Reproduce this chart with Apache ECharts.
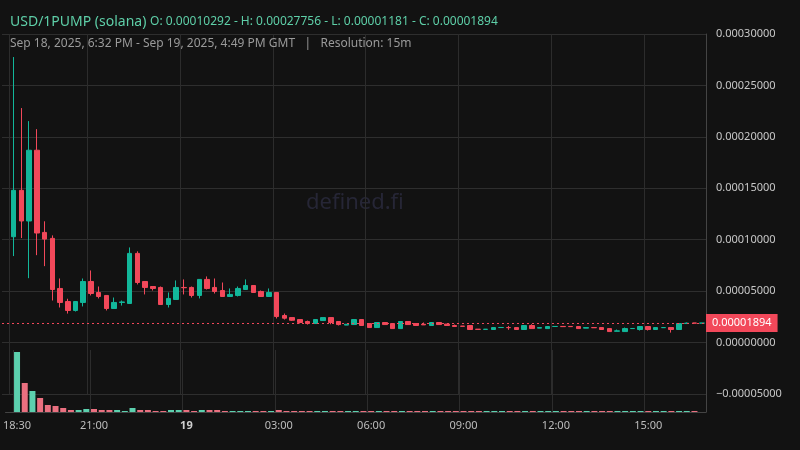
<!DOCTYPE html>
<html><head><meta charset="utf-8">
<script src="https://cdn.jsdelivr.net/npm/echarts@6/dist/echarts.min.js"></script>
<style>html,body{margin:0;padding:0;background:#121212;}#c{width:800px;height:450px;}</style>
</head><body><div id="c"></div>
<script>
// categories: 15-minute slots from 18:15 (Sep 18) to 16:45 (Sep 19)
const categories = [];
for (let i = 0; i <= 90; i++) {
  const m = (18 * 60 + 15 + i * 15) % 1440;
  categories.push(String(Math.floor(m / 60)).padStart(2, '0') + ':' + String(m % 60).padStart(2, '0'));
}
// OHLC in units of 1e-7: [open, close, low, high]
const ohlc = [
  null,
  [1029,1480,841,2776],[1480,1182,1016,2280],[1182,1870,626,2153],[1870,1065,850,2075],
  [1071,1006,743,1179],[1013,516,409,1042],[526,390,341,623],[399,312,282,426],
  [312,399,302,400],[390,594,351,623],[594,477,458,701],[487,448,429,545],
  [458,331,312,458],[331,390,331,438],[390,395,360,409],[380,867,380,925],
  [867,584,565,887],[594,536,468,594],[545,526,506,545],[536,370,370,545],
  [370,429,341,487],[419,536,419,604],[536,533,468,614],[536,458,438,545],
  [458,614,429,614],[614,526,516,643],[536,497,477,623],[506,448,448,584],
  [448,468,448,526],[458,526,448,545],[516,555,516,614],[555,487,487,555],
  [497,448,448,506],[448,487,448,526],[487,253,234,487],
  [263,237,224,282],[243,217,211,243],[224,195,185,224],[205,185,175,214],
  [185,224,185,224],[214,243,214,243],[243,195,178,243],[205,175,166,205],
  [170,178,170,178],[175,224,175,224],[224,166,166,224],[185,146,146,185],
  [146,195,146,195],[195,175,175,195],[185,136,136,185],[136,205,136,205],
  [205,175,175,205],[185,166,166,185],[178,172,172,195],[166,195,166,195],
  [195,175,175,195],[180,166,166,180],[166,156,156,175],[160,158,158,160],
  [166,127,127,166],[130,128,128,130],[128,130,128,130],[127,146,127,146],
  [146,147,146,147],[146,145,124,162],[146,127,127,146],[127,166,127,166],
  [166,136,136,178],[140,146,140,146],[136,156,136,156],[156,157,156,157],
  [157,155,155,157],[157,155,155,157],[156,136,136,156],[140,146,140,146],
  [146,144,144,146],[146,127,127,146],[136,107,107,136],[110,114,110,127],
  [107,136,107,146],[136,137,136,137],[127,156,117,156],[156,127,117,156],
  [127,146,127,146],[145,146,145,146],[146,127,97,146],[127,185,127,185],
  [185,189,185,195],[190,189,189,190],[189,189.4,189,189.4]
];
// volume (relative units)
const volumes = [
  null,60,29,21,14,7,6,4,2,2,3,3,2,2,2,1,4,2,2,1,1,2,2,2,1,2,2,2,1,1,1,1,1,1,1,2,
  1,1,1,1,1,1,1,1,1,1,1,1,1,1,1,1,1,1,1,1,1,1,1,1,1,1,1,1,1,1,1,1,1,1,1,1,1,1,1,
  1,1,1,1,1,1,1,1,1,1,1,1,1,1,1
];
const yTicks = [-0.00005, 0, 0.00005, 0.0001, 0.00015, 0.0002, 0.00025, 0.0003];
const lastPrice = 0.00001894;

const UP = '#12b79a', DOWN = '#f2485a', VUP = '#5cd0ae', VDOWN = '#ea7080';
const candleData = ohlc.map(d => d ? d.map(v => v * 1e-7) : '-');
const volData = volumes.map((v, i) => {
  if (v == null) return '-';
  const d = ohlc[i];
  return { value: v, itemStyle: { color: d[1] >= d[0] ? VUP : VDOWN } };
});
function showTick(i) {
  const c = categories[i];
  return c === '18:30' || (c.endsWith(':00') && parseInt(c) % 3 === 0);
}
const chart = echarts.init(document.getElementById('c'));
chart.setOption({
  backgroundColor: '#121212',
  animation: false,
  title: [{
    text: 'USD/1PUMP (solana) {s|O: 0.00010292 - H: 0.00027756 - L: 0.00001181 - C: 0.00001894}',
    left: 5, top: 10,
    textStyle: { color: '#5ecfa8', fontSize: 14, fontWeight: 'normal', fontFamily: 'Noto Sans',
      rich: { s: { color: '#5ecfa8', fontSize: 12, fontFamily: 'Noto Sans' } } }
  }, {
    text: 'Sep 18, 2025, 6:32 PM - Sep 19, 2025, 4:49 PM GMT   |   Resolution: 15m',
    left: 5, top: 33,
    textStyle: { color: '#9a9a9a', fontSize: 12, fontWeight: 'normal', fontFamily: 'Noto Sans' }
  }],
  graphic: [{ type: 'text', left: 306, top: 192,
    style: { text: 'defined.fi', fill: '#262636', fontSize: 22, fontFamily: 'Noto Sans' } }],
  grid: [
    { left: 2, right: 94, top: 34, bottom: 56 },
    { left: 2, right: 94, top: 350, bottom: 38 }
  ],
  xAxis: [{
    type: 'category', data: categories, gridIndex: 0,
    axisLine: { show: false }, axisTick: { show: false }, axisLabel: { show: false },
    splitLine: { show: true, interval: showTick, lineStyle: { color: '#2c2c2c' } }
  }, {
    type: 'category', data: categories, gridIndex: 1,
    axisLine: { show: true, lineStyle: { color: '#444' } }, axisTick: { show: false },
    splitLine: { show: true, interval: showTick, lineStyle: { color: '#2c2c2c' } },
    axisLabel: {
      interval: showTick, color: '#bdbdbd', fontSize: 11, fontFamily: 'Noto Sans', margin: 8,
      formatter: v => v === '00:00' ? '{b|19}' : v,
      rich: { b: { fontWeight: 'bold', color: '#cfcfcf', fontSize: 11, fontFamily: 'Noto Sans' } }
    }
  }],
  yAxis: [{
    type: 'value', gridIndex: 0, position: 'right', min: -0.00005, max: 0.0003, interval: 0.00005,
    axisLine: { show: true, lineStyle: { color: '#444' } }, axisTick: { show: false },
    splitLine: { lineStyle: { color: '#2e2e2e' } },
    axisLabel: { color: '#c8c8c8', fontSize: 11, fontFamily: 'Noto Sans', margin: 10,
      formatter: v => (v < 0 ? '\u2212' : '') + Math.abs(v).toFixed(8) }
  }, {
    type: 'value', gridIndex: 1, position: 'right', min: 0, max: 62,
    axisLine: { show: true, lineStyle: { color: '#444' } }, axisTick: { show: false },
    axisLabel: { show: false }, splitLine: { show: false }
  }],
  series: [{
    type: 'candlestick', xAxisIndex: 0, yAxisIndex: 0, data: candleData, barWidth: 5,
    itemStyle: { color: UP, color0: DOWN, borderColor: UP, borderColor0: DOWN, borderWidth: 1 }
  }, {
    type: 'line', xAxisIndex: 0, yAxisIndex: 0, data: [], symbol: 'none',
    markLine: {
      symbol: 'none', silent: true, precision: 8,
      data: [{ yAxis: lastPrice }],
      lineStyle: { color: DOWN, type: [2, 3], width: 1 },
      label: { position: 'end', formatter: () => lastPrice.toFixed(8), color: '#fff',
        backgroundColor: DOWN, padding: [4, 6, 3, 6], fontSize: 11, fontFamily: 'Noto Sans',
        distance: 0, borderRadius: 0 }
    }
  }, {
    type: 'bar', xAxisIndex: 1, yAxisIndex: 1, data: volData, barWidth: 6
  }]
});
</script></body></html>
